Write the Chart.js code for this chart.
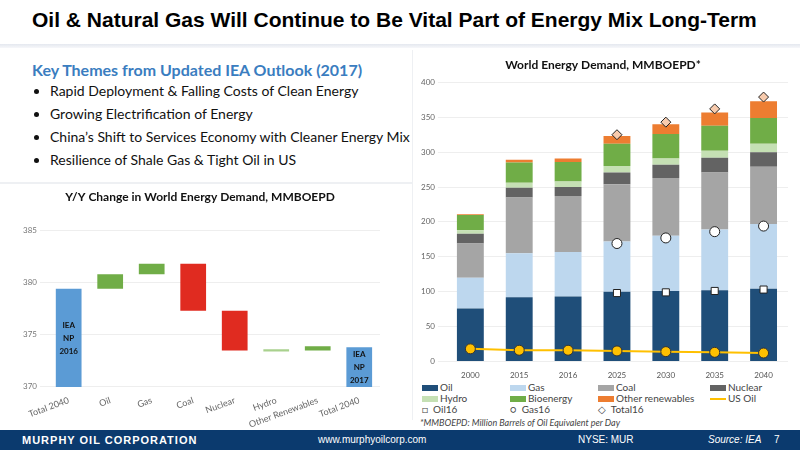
<!DOCTYPE html>
<html>
<head>
<meta charset="UTF-8">
<script src="https://cdn.jsdelivr.net/npm/chart.js"></script>
<style>
  body { margin:0; width:800px; height:450px; position:relative; overflow:hidden; background:#fff; font-family:Lato, sans-serif; }
  #title { position:absolute; left:32px; top:8px; font:bold 21px "Liberation Sans", Arial, sans-serif; color:#000; }
  #rule { position:absolute; left:0; top:44px; width:800px; height:4px; background:linear-gradient(#e4e8ef,#f6f7fa); }
  #themes { position:absolute; left:32px; top:60px; width:380px; }
  #themes h2 { margin:0; font-size:16px; color:#3a7dc0; font-weight:bold; }
  #themes ul { margin:3px 0 0 0; padding-left:18px; font-size:14px; color:#111; }
  #themes li { margin-bottom:6px; white-space:nowrap; }
  #sep { position:absolute; left:0; top:182px; width:412px; height:2px; background:#eef0f3; }
  #vsep { position:absolute; left:412px; top:50px; width:1px; height:370px; background:#eef0f3; }
  #wf { position:absolute; left:0; top:190px; }
  #wed { position:absolute; left:410px; top:56px; }
  #legend { position:absolute; left:422px; top:382px; width:375px; display:grid; grid-template-columns:88px 88px 112px 84px; font-size:10px; color:#444; line-height:11px; white-space:nowrap; }
  #legend span i { display:inline-block; width:16px; height:6px; margin-right:2px; vertical-align:middle; }
  #note { position:absolute; left:420px; top:417px; font:italic 9px Lato, sans-serif; color:#444; }
  #foot { position:absolute; left:0; top:430px; width:800px; height:20px; background:#0b3a6e; color:#fff; font:10px "Liberation Sans", Arial, sans-serif; }
  #foot span { position:absolute; top:4px; }
</style>
</head>
<body>
<div id="title">Oil &amp; Natural Gas Will Continue to Be Vital Part of Energy Mix Long-Term</div>
<div id="rule"></div>
<div id="themes">
  <h2>Key Themes from Updated IEA Outlook (2017)</h2>
  <ul>
    <li>Rapid Deployment &amp; Falling Costs of Clean Energy</li>
    <li>Growing Electrification of Energy</li>
    <li>China’s Shift to Services Economy with Cleaner Energy Mix</li>
    <li>Resilience of Shale Gas &amp; Tight Oil in US</li>
  </ul>
</div>
<div id="sep"></div>
<div id="vsep"></div>
<canvas id="wf" width="405" height="240"></canvas>
<canvas id="wed" width="390" height="325"></canvas>
<div id="legend">
  <span><i style="background:#1f4e79"></i>Oil</span>
  <span><i style="background:#bdd7ee"></i>Gas</span>
  <span><i style="background:#a5a5a5"></i>Coal</span>
  <span><i style="background:#636363"></i>Nuclear</span>
  <span><i style="background:#c5e0b4"></i>Hydro</span>
  <span><i style="background:#70ad47"></i>Bioenergy</span>
  <span><i style="background:#ed7d31"></i>Other renewables</span>
  <span><i style="background:#ffc000;height:2px"></i>US Oil</span>
  <span>&#9633;&nbsp; Oil16</span>
  <span>&#9675;&nbsp; Gas16</span>
  <span>&#9671;&nbsp; Total16</span>
</div>
<div id="note">*MMBOEPD: Million Barrels of Oil Equivalent per Day</div>
<div id="foot">
  <span style="left:22px;font-weight:bold;font-size:11px;letter-spacing:1px">MURPHY OIL CORPORATION</span>
  <span style="left:318px">www.murphyoilcorp.com</span>
  <span style="left:578px">NYSE: MUR</span>
  <span style="left:708px;font-style:italic">Source: IEA</span>
  <span style="left:774px">7</span>
</div>
<script>
// waterfall
const wfLabels = ['Total 2040', 'Oil', 'Gas', 'Coal', 'Nuclear', 'Hydro', 'Other Renewables', 'Total 2040'];
const wfRanges = [[370, 379.4], [379.4, 380.8], [380.8, 381.8], [377.3, 381.8], [373.5, 377.3], [373.4, 373.6], [373.5, 373.9], [370, 373.8]];
const wfColors = ['#5b9bd5', '#70ad47', '#70ad47', '#e02b20', '#e02b20', '#a9d18e', '#70ad47', '#5b9bd5'];
const wfText = {0: ['IEA', 'NP', '2016'], 7: ['IEA', 'NP', '2017']};

// world energy demand
const years = ['2000', '2015', '2016', '2025', '2030', '2035', '2040'];
const oil = [76, 92, 93, 100, 101, 102, 104];
const gas = [44, 63, 64, 72, 79, 87, 93];
const coal = [49, 80, 80, 82, 83, 82, 82];
const nuclear = [14, 14, 13, 17, 19, 21, 21];
const hydro = [5, 7, 8, 9, 9, 10, 12];
const bioenergy = [22, 29, 28, 32, 35, 36, 37];
const otherRen = [1, 4, 5, 11, 14, 19, 24];
const usOil = [18, 16, 16, 15, 14, 13, 12];
const oil16 = [null, null, null, 98, 99, 101, 103];
const gas16 = [null, null, null, 169, 177, 186, 194];
const total16 = [null, null, null, 325, 343, 362, 379];

Chart.defaults.font.family = 'Lato, sans-serif';
Chart.defaults.animation = false;

const barText = {
  id: 'barText',
  afterDatasetsDraw(chart) {
    const ctx = chart.ctx;
    const meta = chart.getDatasetMeta(0);
    ctx.save();
    ctx.font = 'bold 8px Lato';
    ctx.fillStyle = '#111';
    ctx.textAlign = 'center';
    Object.keys(wfText).forEach(i => {
      const bar = meta.data[i];
      const mid = (bar.y + bar.base) / 2;
      wfText[i].forEach((t, k) => ctx.fillText(t, bar.x, mid + (k - 1) * 13 + 3));
    });
    ctx.restore();
  }
};

new Chart(document.getElementById('wf'), {
  data: { labels: wfLabels, datasets: [{ type: 'bar', data: wfRanges, backgroundColor: wfColors, barPercentage: 0.62, categoryPercentage: 1 }] },
  options: {
    responsive: false,
    layout: { padding: { left: 20, right: 25, top: 0, bottom: 0 } },
    plugins: {
      legend: { display: false },
      title: { display: true, text: 'Y/Y Change in World Energy Demand, MMBOEPD', color: '#111', font: { size: 12, weight: 'bold' }, padding: { top: 0, bottom: 26 } }
    },
    scales: {
      y: { min: 370, max: 385, ticks: { stepSize: 5, color: '#777', font: { size: 8 } }, grid: { color: '#eee' }, border: { display: false } },
      x: { ticks: { color: '#666', font: { size: 9 }, maxRotation: 20, minRotation: 20, padding: 0 }, grid: { display: false }, border: { display: false } }
    }
  },
  plugins: [barText]
});

const bar = (label, data, color) => ({ type: 'bar', label, data, backgroundColor: color, stack: 's', barPercentage: 0.55, categoryPercentage: 1, order: 5 });
const pts = (label, data, style, fill, r) => ({ type: 'line', label, data, stack: label, showLine: false, pointStyle: style, pointRadius: r, pointBackgroundColor: fill, pointBorderColor: '#222', pointBorderWidth: 1, order: 1 });

new Chart(document.getElementById('wed'), {
  data: {
    labels: years,
    datasets: [
      bar('Oil', oil, '#1f4e79'),
      bar('Gas', gas, '#bdd7ee'),
      bar('Coal', coal, '#a5a5a5'),
      bar('Nuclear', nuclear, '#636363'),
      bar('Hydro', hydro, '#c5e0b4'),
      bar('Bioenergy', bioenergy, '#70ad47'),
      bar('Other renewables', otherRen, '#ed7d31'),
      { type: 'line', label: 'US Oil', data: usOil, stack: 'us', borderColor: '#ffc000', borderWidth: 2, pointRadius: 5, pointBackgroundColor: '#ffc000', pointBorderColor: '#333', pointBorderWidth: 1, order: 0 },
      pts('Oil16', oil16, 'rect', '#fff', 5),
      pts('Gas16', gas16, 'circle', '#fff', 5),
      pts('Total16', total16, 'rectRot', '#f8cbad', 5)
    ]
  },
  options: {
    responsive: false,
    layout: { padding: { left: 8, right: 12, top: 0, bottom: 0 } },
    plugins: {
      legend: { display: false },
      title: { display: true, text: 'World Energy Demand, MMBOEPD*', color: '#111', font: { size: 12, weight: 'bold' }, padding: { top: 2, bottom: 10 } }
    },
    scales: {
      y: { stacked: true, min: 0, max: 400, ticks: { stepSize: 50, color: '#666', font: { size: 8 } }, grid: { color: '#eee' }, border: { display: false } },
      x: { stacked: true, ticks: { color: '#555', font: { size: 8 }, padding: 1 }, grid: { display: false }, border: { display: false } }
    }
  }
});
</script>
</body>
</html>
